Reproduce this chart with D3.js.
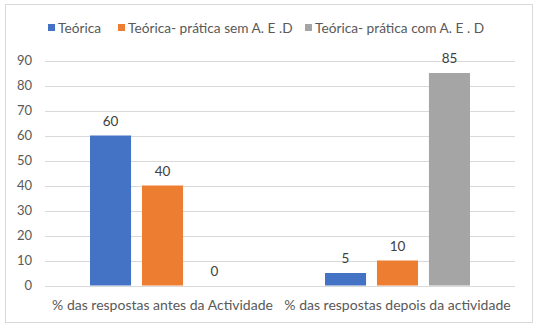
<!DOCTYPE html>
<html>
<head>
<meta charset="utf-8">
<script src="https://cdn.jsdelivr.net/npm/d3@7"></script>
<style>
  body { margin: 0; background: #fff; }
  svg { display: block; font-family: Lato, "Open Sans", sans-serif; }
</style>
</head>
<body>
<svg id="chart" width="537" height="328"></svg>
<script>
// dados do gráfico
const categories = ["% das respostas antes da Actividade", "% das respostas depois da actividade"];
const seriesNames = ["Teórica", "Teórica- prática sem A. E .D", "Teórica- prática com A. E . D"];
const seriesColors = ["#4472C4", "#ED7D31", "#A5A5A5"];
const teorica = [60, 5];
const semAED = [40, 10];
const comAED = [0, 85];
const yTicks = [0, 10, 20, 30, 40, 50, 60, 70, 80, 90];

const values = [teorica, semAED, comAED];

const svg = d3.select("#chart");
const plot = { left: 45, right: 515, top: 60.5, bottom: 285.5 };

// moldura
svg.append("rect")
  .attr("x", 5.5).attr("y", 4.5)
  .attr("width", 527).attr("height", 318)
  .attr("fill", "#fff").attr("stroke", "#d9d9d9");

const y = d3.scaleLinear().domain([0, 90]).range([plot.bottom, plot.top]);
const x0 = d3.scaleBand().domain(categories).range([plot.left, plot.right]).padding(0);
const x1 = d3.scaleBand().domain(seriesNames)
  .range([0, 145]).paddingInner(0.21).paddingOuter(0);
const groupOffset = (x0.bandwidth() - 145) / 2;

// grelha
svg.append("g").selectAll("line").data(yTicks).join("line")
  .attr("x1", plot.left).attr("x2", plot.right)
  .attr("y1", d => Math.round(y(d)) + 0.5).attr("y2", d => Math.round(y(d)) + 0.5)
  .attr("stroke", "#d9d9d9");

// eixo y
svg.append("g").selectAll("text").data(yTicks).join("text")
  .attr("x", 32).attr("y", d => y(d) + 4.5)
  .attr("text-anchor", "end")
  .attr("font-size", 13).attr("fill", "#595959")
  .text(d => d);

// barras
seriesNames.forEach((s, i) => {
  const g = svg.append("g");
  g.selectAll("rect").data(categories).join("rect")
    .attr("x", (c) => x0(c) + groupOffset + x1(s))
    .attr("width", x1.bandwidth())
    .attr("y", (c, j) => y(values[i][j]))
    .attr("height", (c, j) => y(0) - y(values[i][j]))
    .attr("fill", seriesColors[i]);
  g.selectAll("text").data(categories).join("text")
    .attr("x", (c) => x0(c) + groupOffset + x1(s) + x1.bandwidth() / 2)
    .attr("y", (c, j) => y(values[i][j]) - 10)
    .attr("text-anchor", "middle")
    .attr("font-size", 13.5).attr("fill", "#404040")
    .text((c, j) => values[i][j]);
});

// categorias
svg.append("g").selectAll("text").data(categories).join("text")
  .attr("x", c => x0(c) + x0.bandwidth() / 2)
  .attr("y", 310)
  .attr("text-anchor", "middle")
  .attr("font-size", 14).attr("fill", "#595959")
  .text(c => c);

// legenda
const legendX = [48, 118, 305];
const leg = svg.append("g");
seriesNames.forEach((s, i) => {
  leg.append("rect")
    .attr("x", legendX[i]).attr("y", 24)
    .attr("width", 7).attr("height", 7)
    .attr("fill", seriesColors[i]);
  leg.append("text")
    .attr("x", legendX[i] + 10).attr("y", 32.5)
    .attr("font-size", 13.7).attr("fill", "#595959")
    .text(s);
});
</script>
</body>
</html>
